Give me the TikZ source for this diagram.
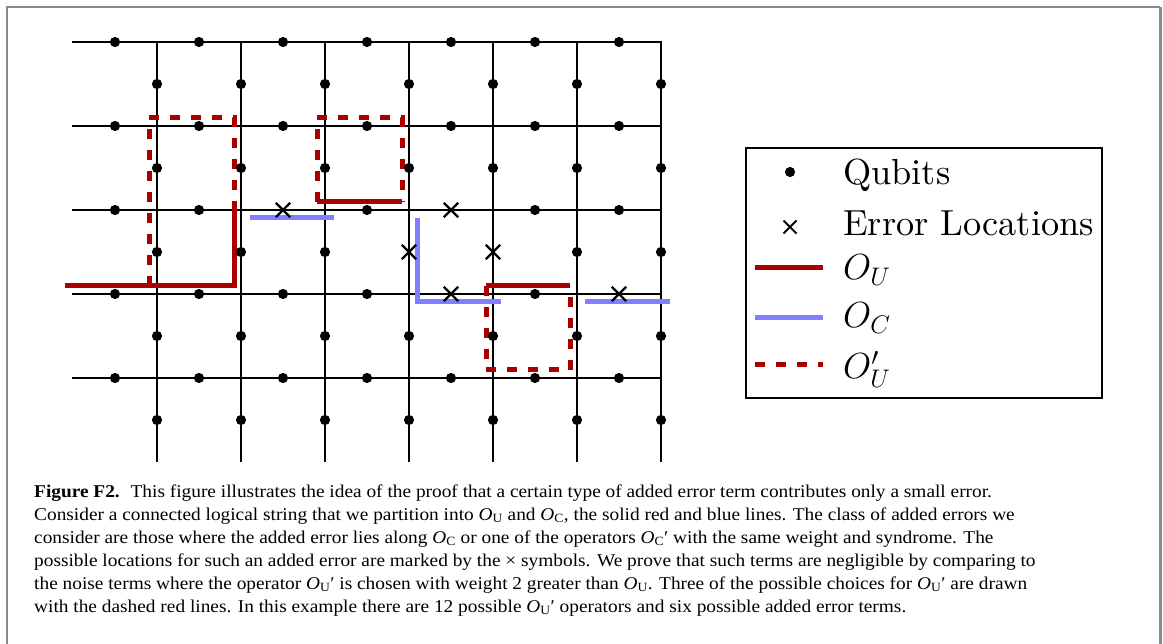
\RequirePackage{fix-cm}
\documentclass[tikz,border=0pt]{standalone}
\usepackage{fontspec}
\usetikzlibrary{shapes.misc}
\newfontfamily\capfont[FakeStretch=1.075]{Liberation Serif}
\newfontfamily\legfont{lmroman10-regular.otf}
\definecolor{ouRed}{RGB}{170,0,0}
\definecolor{ocBlue}{RGB}{128,128,255}
\definecolor{frameGray}{RGB}{138,138,138}
\newcommand{\capO}[1]{\textit{O}\textsubscript{#1}}

\tikzset{
  gridline/.style={line width=2.2pt, line cap=rect},
  qubit/.style={circle, fill=black, inner sep=0pt, minimum size=10.2pt},
  errloc/.style={cross out, draw=black, line width=2.4pt, inner sep=0pt, minimum size=12pt},
  opU/.style={draw=ouRed, line width=5pt},
  opC/.style={draw=ocBlue, line width=5pt},
  opUp/.style={draw=ouRed, line width=5pt, dash pattern=on 10pt off 11pt},
  legtext/.style={anchor=base west, inner sep=0pt, font=\legfont\fontsize{36.3}{42}\selectfont},
  captext/.style={anchor=base west, inner sep=0pt, font=\capfont\fontsize{18}{23}\selectfont},
}

\begin{document}
\begin{tikzpicture}[x=1pt, y=-1pt]
  \useasboundingbox (0,0) rectangle (1163,644);

  % ==== FRAME ====
  \draw[frameGray, line width=2pt] (7,644) -- (7,7) -- (1160,7);
  \draw[frameGray, line width=3pt] (1160,7) -- (1160,644);

  % ==== LATTICE ====
  \foreach \y in {42,126,...,378} \draw[gridline] (73,\y) -- (661,\y);
  \foreach \x in {157,241,...,661} \draw[gridline] (\x,42) -- (\x,461);

  % ==== DASHED O_U' ====
  \draw[opUp] (149,286) -- (149,118) -- (234,118) -- (234,202);
  \draw[opUp] (317,202) -- (317,118) -- (402,118) -- (402,202);
  \draw[opUp] (486,286) -- (486,370) -- (570,370) -- (570,286);

  % ==== SOLID O_U ====
  \draw[opU] (65,286) -- (234,286) -- (234,202);
  \draw[opU] (317,202) -- (402,202);
  \draw[opU] (486,286) -- (570,286);

  % ==== SOLID O_C ====
  \draw[opC] (250,218) -- (334,218);
  \draw[opC] (417,218) -- (417,302) -- (501,302);
  \draw[opC] (585,302) -- (670,302);

  % ==== QUBITS ON HORIZONTAL EDGES ====
  \foreach \r in {0,...,4}{
    \foreach \c in {0,...,6}{
      \pgfmathtruncatemacro{\iserr}{(\r==2 && (\c==2 || \c==4)) || (\r==3 && (\c==4 || \c==6))}
      \pgfmathsetmacro{\qx}{115+84*\c}
      \pgfmathsetmacro{\qy}{42+84*\r}
      \ifnum\iserr=1
        \node[errloc] (h-\r-\c) at (\qx,\qy) {};
      \else
        \node[qubit] (h-\r-\c) at (\qx,\qy) {};
      \fi
    }
  }

  % ==== QUBITS ON VERTICAL EDGES ====
  \foreach \k in {0,...,6}{
    \foreach \m in {0,...,4}{
      \pgfmathtruncatemacro{\iserr}{\m==2 && (\k==3 || \k==4)}
      \pgfmathsetmacro{\qx}{157+84*\k}
      \pgfmathsetmacro{\qy}{84+84*\m}
      \ifnum\iserr=1
        \node[errloc] (v-\k-\m) at (\qx,\qy) {};
      \else
        \node[qubit] (v-\k-\m) at (\qx,\qy) {};
      \fi
    }
  }

  % ==== LEGEND ====
  \draw[line width=1.5pt] (746,148) rectangle (1102,398);
  \node[qubit] (leg-qubit) at (790,172) {};
  \node[legtext] (leg-qubit-txt) at (843,185) {Qubits};
  \node[errloc, minimum size=11pt, line width=2pt] (leg-err) at (790,227) {};
  \node[legtext] (leg-err-txt) at (843,236) {Error Locations};
  \draw[opU] (755,268) -- (823,268);
  \node[legtext] (leg-ou-txt) at (843,280) {$O_U$};
  \draw[opC] (755,318) -- (823,318);
  \node[legtext] (leg-oc-txt) at (843,328) {$O_C$};
  \draw[opUp] (755,365) -- (823,365);
  \node[legtext] (leg-oup-txt) at (843,379) {$O'_U$};

  % ==== CAPTION ====
  \node[captext] (cap-1) at (34,497) {\textbf{Figure F2.}\hspace{0.6em}This figure illustrates the idea of the proof that a certain type of added error term contributes only a small error.};
  \node[captext] (cap-2) at (34,520) {Consider a connected logical string that we partition into \capO{U} and \capO{C}, the solid red and blue lines. The class of added errors we};
  \node[captext] (cap-3) at (34,543) {consider are those where the added error lies along \capO{C} or one of the operators \capO{C}′ with the same weight and syndrome. The};
  \node[captext] (cap-4) at (34,566) {possible locations for such an added error are marked by the × symbols. We prove that such terms are negligible by comparing to};
  \node[captext] (cap-5) at (34,589) {the noise terms where the operator \capO{U}′ is chosen with weight 2 greater than \capO{U}. Three of the possible choices for \capO{U}′ are drawn};
  \node[captext] (cap-6) at (34,612) {with the dashed red lines. In this example there are 12 possible \capO{U}′ operators and six possible added error terms.};
\end{tikzpicture}
\end{document}
